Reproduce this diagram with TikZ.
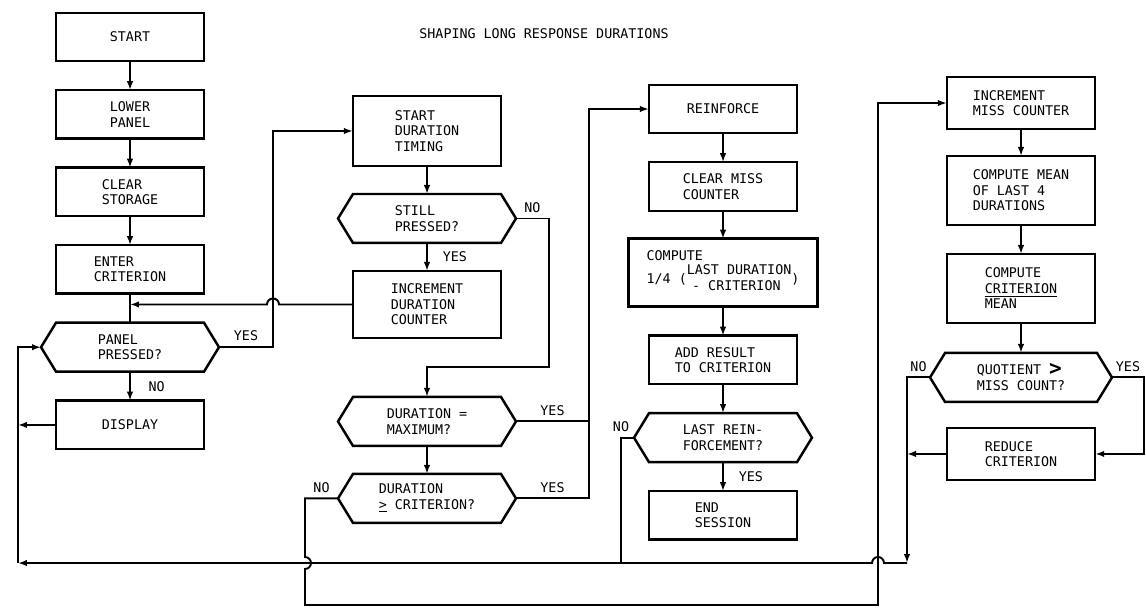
\documentclass[tikz,border=0pt]{standalone}
\usepackage{fontspec}
\setmainfont{DejaVu Sans Mono}
\usepackage{tikz}
\usetikzlibrary{positioning,arrows.meta,calc}

\newcommand{\hexframe}[1]{%
  \coordinate (#1-w) at ([xshift=-0.3cm]#1.west);
  \coordinate (#1-e) at ([xshift=0.3cm]#1.east);
  \draw[outline] (#1-w) -- (#1.north west) -- (#1.north east) -- (#1-e)
    -- (#1.south east) -- (#1.south west) -- cycle;}

\begin{document}
\begin{tikzpicture}[
    x=0.02cm, y=-0.02cm,
    node distance=0.58cm,
    font=\fontsize{7.6}{8.8}\selectfont,
    outline/.style={line width=1.4pt, line join=miter},
    flowline/.style={line width=1.1pt, -{Latex[length=1.8mm,width=1.3mm]}},
    plainline/.style={line width=1.1pt},
    procbox/.style={draw, outline, rectangle, align=left, minimum width=2.97cm, minimum height=0.97cm, inner sep=2pt, outer sep=0pt},
    tallbox/.style={procbox, minimum height=1.38cm},
    testnode/.style={rectangle, align=left, minimum width=2.96cm, minimum height=0.98cm, inner sep=1pt, outer sep=0pt},
    answer/.style={inner sep=1pt}
]
\useasboundingbox (0,0) rectangle (1146,608);

\node (title) at (544,34) {SHAPING LONG RESPONSE DURATIONS};

% first column
\node[procbox] (start) at (130,37) {START};
\node[procbox, below=of start] (lower) {LOWER\\PANEL};
\node[procbox, below=of lower] (clear) {CLEAR\\STORAGE};
\node[procbox, below=of clear] (enter) {ENTER\\CRITERION};
\node[testnode, below=of enter] (panel) {PANEL\\PRESSED?};
\node[procbox, below=of panel] (display) {DISPLAY};
\hexframe{panel}

% second column
\node[procbox, minimum height=1.4cm] (durstart) at (427,131) {START\\DURATION\\TIMING};
\node[testnode, below=0.56cm of durstart] (still) {STILL\\PRESSED?};
\node[tallbox, minimum height=1.34cm, below=0.56cm of still] (incdur) {INCREMENT\\DURATION\\COUNTER};
\node[testnode, below=1.18cm of incdur] (durmax) {DURATION =\\MAXIMUM?};
\node[testnode, below=0.56cm of durmax] (durcrit) {DURATION\\\underline{>} CRITERION?};
\hexframe{still}
\hexframe{durmax}
\hexframe{durcrit}

% third column
\node[procbox] (reinf) at (723,109) {REINFORCE};
\node[procbox, below=of reinf] (clearmiss) {CLEAR MISS\\COUNTER};
\node[procbox, minimum width=3.78cm, minimum height=1.36cm, below=0.56cm of clearmiss] (compute)
    {COMPUTE\\[1pt]1/4 (\begin{tabular}{@{}l@{}}LAST DURATION\\\hspace{0.4em}- CRITERION\end{tabular})};
\node[procbox, below=of compute] (addres) {ADD RESULT\\TO CRITERION};
\node[testnode, below=of addres] (lastr) {LAST REIN-\\FORCEMENT?};
\node[procbox, below=of lastr] (endsess) {END\\SESSION};
\hexframe{lastr}

% fourth column
\node[procbox, minimum height=1.04cm] (incmiss) at (1021,103) {INCREMENT\\MISS COUNTER};
\node[tallbox, below=0.54cm of incmiss] (meanlast) {COMPUTE MEAN\\OF LAST 4\\DURATIONS};
\node[tallbox, below=of meanlast] (quot) {COMPUTE\\\underline{CRITERION}\\MEAN};
\node[testnode, minimum width=3.04cm, below=0.6cm of quot] (quotient)
    {QUOTIENT \raisebox{-0.5pt}[0pt][0pt]{\fontsize{12}{8.8}\selectfont\bfseries >}\\MISS COUNT?};
\node[procbox, minimum height=1.04cm, below=0.52cm of quotient] (reduce) {REDUCE\\CRITERION};
\hexframe{quotient}

% turning points
\coordinate (pturn) at (273,347);
\coordinate (sturn) at (549,367);
\coordinate (ry) at (589,498);
\coordinate (lft) at (18,563);
\coordinate (lturn) at (621,563);
\coordinate (qdown) at (907,563);
\coordinate (redge) at (1144,455);
\coordinate (nx) at (305,605);
\coordinate (mx) at (878,605);
\coordinate (jn) at (enter.south |- incdur.west);
\coordinate (x1) at (pturn |- incdur.west);
\coordinate (x2) at (nx |- lft);
\coordinate (x3) at (mx |- lft);

\draw[flowline] (start) -- (lower);
\draw[flowline] (lower) -- (clear);
\draw[flowline] (clear) -- (enter);
\draw[plainline] (enter) -- (panel);
\draw[flowline] (panel) -- node[answer, right=9pt] (pno) {NO} (display);
\draw[flowline] (panel-e) -| node[answer, above=2pt, pos=0.25] (pyes) {YES} (durstart.west -| pturn) -- (durstart.west);
\draw[flowline] (incdur.west) -- ([xshift=0.12cm]x1) arc[start angle=0, end angle=180, radius=0.12cm] -- (jn);
\draw[flowline] (display.west) -- (display.west -| lft);
\draw[flowline] (lft) |- (panel-w);

\draw[flowline] (durstart) -- (still);
\draw[flowline] (still) -- node[answer, right=7.5pt] (syes) {YES} (incdur);
\draw[flowline] (still-e) -| node[answer, above=2pt, pos=0.25] (sno) {NO} (sturn) -| (durmax.north);
\draw[flowline] (durmax) -- (durcrit);
\draw[plainline] (durmax-e) -- node[answer, above=2pt] (myes) {YES} (durmax-e -| ry);
\draw[flowline] (durcrit-e) -- node[answer, above=2pt] (cyes) {YES} (durcrit-e -| ry) |- (reinf.west);
\draw[flowline] (durcrit-w) -- node[answer, above=2pt] (cno) {NO} (durcrit-w -| nx)
    -- ([yshift=0.12cm]x2) arc[start angle=90, end angle=-90, radius=0.12cm]
    -- (nx) -- (mx) -- (mx |- incmiss.west) -- (incmiss.west);

\draw[flowline] (reinf) -- (clearmiss);
\draw[flowline] (clearmiss) -- (compute);
\draw[flowline] (compute) -- (addres);
\draw[flowline] (addres) -- (lastr);
\draw[flowline] (lastr) -- node[answer, right=7.5pt] (lyes) {YES} (endsess);
\draw[plainline] (lastr-w) -| node[answer, above=2pt, pos=0.5] (lno) {NO} (lturn);

\draw[flowline] (incmiss) -- (meanlast);
\draw[flowline] (meanlast) -- (quot);
\draw[flowline] (quot) -- (quotient);
\draw[flowline] (quotient-e) -| node[answer, above=2pt, pos=0.25] (qyes) {YES} (reduce.east -| redge) -- (reduce.east);
\draw[flowline] (quotient-w) -| node[answer, above=2pt, pos=0.25] (qno) {NO} (qdown);
\draw[flowline] (reduce.west) -- (reduce.west -| qdown);
\draw[flowline] (qdown) -- ([xshift=0.12cm]x3) arc[start angle=0, end angle=180, radius=0.12cm] -- (lft);
\end{tikzpicture}
\end{document}
